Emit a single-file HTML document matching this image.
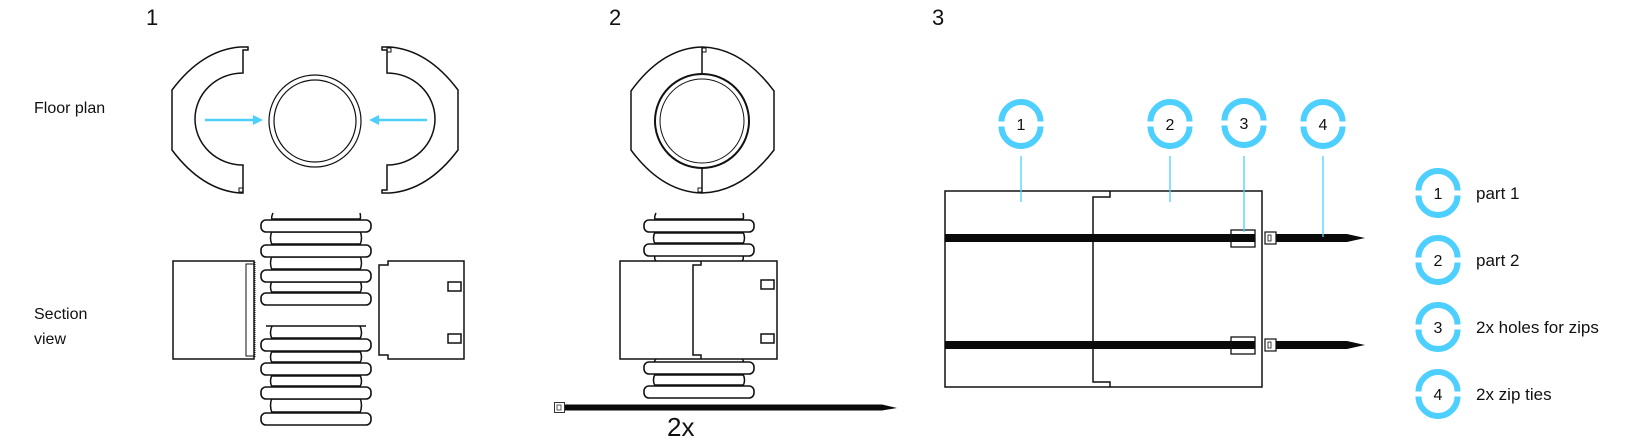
<!DOCTYPE html>
<html><head><meta charset="utf-8"><style>
html,body{margin:0;padding:0;background:#fff;}
svg{display:block;}
text{font-family:"Liberation Sans",sans-serif;fill:#111;}
</style></head><body>
<svg width="1646" height="442" viewBox="0 0 1646 442" xmlns="http://www.w3.org/2000/svg">
<defs>
<g id="badge">
  <path d="M-19.5,-2.5 A19.5,19.5 0 0 1 19.5,-2.5 M-19.5,2.5 A19.5,19.5 0 0 0 19.5,2.5" fill="none" stroke="#4dcfff" stroke-width="6"/>
</g>
<g id="ring">
  <rect x="0" y="0" width="110" height="12" rx="5" fill="#fff" stroke="#111" stroke-width="1.6"/>
</g>
</defs>

<text x="146" y="25" font-size="22">1</text>
<text x="609" y="25" font-size="22">2</text>
<text x="932" y="25" font-size="22">3</text>
<text x="34" y="113" font-size="16">Floor plan</text>
<text x="34" y="319" font-size="16">Section</text>
<text x="34" y="344" font-size="16">view</text>

<g fill="none" stroke="#111" stroke-width="1.5">
  <path d="M243,73 L243,50 L248,50 L248,47 L240,47 Q202,50 172,90 L172,150 Q202,190 240,193 L243,193 L243,165 A48,46 0 0 1 243,73 Z"/>
  <rect x="239" y="188" width="4" height="4" stroke-width="1"/>
  <path d="M387,73 L387,50 L382,50 L382,47 L390,47 Q428,50 458,90 L458,150 Q428,190 390,193 L382,193 L382,190 L387,190 L387,165 A48,46 0 0 0 387,73 Z"/>
  <rect x="387" y="48" width="4" height="4" stroke-width="1"/>
  <circle cx="315" cy="121" r="46" stroke-width="1.2"/>
  <circle cx="315" cy="121" r="41" stroke-width="1.2"/>
</g>
<g stroke="#4dcfff" stroke-width="2.5" fill="#4dcfff">
  <line x1="205" y1="120" x2="254" y2="120"/>
  <polygon points="263,120 253,115 253,125" stroke="none"/>
  <line x1="427" y1="120" x2="378" y2="120"/>
  <polygon points="369,120 379,115 379,125" stroke="none"/>
</g>

<g fill="none" stroke="#111" stroke-width="1.5">
  <path d="M273,213 Q271,217 272,220 M360,213 Q361,217 360,220"/>
  <path d="M272,231 Q269,238 272,245 M360,231 Q363,238 360,245"/>
  <path d="M272,256 Q269,263 272,270 M360,256 Q363,263 360,270"/>
  <path d="M272,281 Q269,287 272,293 M360,281 Q363,287 360,293"/>
  <line x1="272" y1="232" x2="360" y2="232"/><line x1="272" y1="244" x2="360" y2="244"/>
  <line x1="272" y1="257" x2="360" y2="257"/><line x1="272" y1="269" x2="360" y2="269"/>
  <line x1="272" y1="282" x2="360" y2="282"/><line x1="272" y1="292" x2="360" y2="292"/>
  <line x1="272" y1="219" x2="360" y2="219"/>
  <line x1="266" y1="326" x2="366" y2="326"/>
  <path d="M272,326 Q269,333 272,339 M360,326 Q363,333 360,339"/>
  <path d="M272,351 Q269,357 272,363 M360,351 Q363,357 360,363"/>
  <path d="M272,375 Q269,381 272,387 M360,375 Q363,381 360,387"/>
  <path d="M272,398 Q269,405 272,413 M360,398 Q363,405 360,413"/>
  <line x1="272" y1="352" x2="360" y2="352"/><line x1="272" y1="362" x2="360" y2="362"/>
  <line x1="272" y1="376" x2="360" y2="376"/><line x1="272" y1="386" x2="360" y2="386"/>
  <line x1="272" y1="399" x2="360" y2="399"/><line x1="272" y1="412" x2="360" y2="412"/>
  <line x1="272" y1="338" x2="360" y2="338"/>
</g>
<use href="#ring" x="261" y="220"/><use href="#ring" x="261" y="245"/>
<use href="#ring" x="261" y="270"/><use href="#ring" x="261" y="293"/>
<use href="#ring" x="261" y="339"/><use href="#ring" x="261" y="363"/>
<use href="#ring" x="261" y="387"/><use href="#ring" x="261" y="413"/>
<g fill="none" stroke="#111" stroke-width="1.5">
  <rect x="173" y="261" width="81" height="98"/>
  <rect x="246" y="264" width="8" height="92" stroke-width="1"/>
  <line x1="255" y1="262" x2="255" y2="358" stroke-dasharray="1,1" stroke-width="1"/>
  <path d="M388,261 L464,261 L464,359 L388,359 L388,355 L379,355 L379,265 L388,265 Z"/>
  <rect x="448" y="282" width="13" height="9"/>
  <rect x="448" y="334" width="13" height="9"/>
</g>

<g fill="none" stroke="#111" stroke-width="1.5">
  <path d="M702,47 Q662,48 631,91 L631,150 Q662,192 702,193 Q742,192 774,150 L774,91 Q742,48 702,47 Z"/>
  <line x1="702" y1="47" x2="702" y2="74"/>
  <line x1="702" y1="167" x2="702" y2="193"/>
  <rect x="702" y="48" width="4" height="4" stroke-width="1"/>
  <rect x="698" y="188" width="4" height="4" stroke-width="1"/>
  <circle cx="702" cy="121" r="47" stroke-width="2"/>
  <circle cx="702" cy="121" r="42" stroke-width="1"/>
  <path d="M656,213 Q654,217 655,220 M743,213 Q744,217 743,220"/>
  <path d="M655,232 Q652,238 655,244 M743,232 Q746,238 743,244"/>
  <path d="M655,256 Q654,259 656,261 M743,256 Q744,259 742,261"/>
  <path d="M656,359 Q654,361 655,362 M742,359 Q744,361 743,362"/>
  <path d="M655,374 Q652,380 655,386 M743,374 Q746,380 743,386"/>
  <line x1="655" y1="233" x2="743" y2="233"/><line x1="655" y1="243" x2="743" y2="243"/>
  <line x1="655" y1="219" x2="743" y2="219"/>
  <line x1="655" y1="375" x2="743" y2="375"/><line x1="655" y1="385" x2="743" y2="385"/>
</g>
<g transform="translate(383,0)">
<use href="#ring" x="261" y="220"/><use href="#ring" x="261" y="244"/>
<use href="#ring" x="261" y="362"/><use href="#ring" x="261" y="386"/>
</g>
<g fill="none" stroke="#111" stroke-width="1.5">
  <rect x="620" y="261" width="157" height="98" fill="#fff"/>
  <path d="M701,261 L701,265 L693,265 L693,355 L701,355 L701,359"/>
  <rect x="761" y="280" width="13" height="9"/>
  <rect x="761" y="334" width="13" height="9"/>
</g>
<rect x="565" y="404.5" width="317" height="6" fill="#0a0a0a"/>
<polygon points="882,404.5 897,408 882,410.5" fill="#0a0a0a"/>
<rect x="554.5" y="402.5" width="10" height="10" fill="#fff" stroke="#333" stroke-width="1"/>
<rect x="557" y="405" width="4" height="5" fill="#fff" stroke="#333" stroke-width="0.8"/>
<text x="667" y="436" font-size="26">2x</text>

<g fill="none" stroke="#111" stroke-width="1.5">
  <rect x="945" y="191" width="317" height="196"/>
  <path d="M1110,191 L1110,197 L1093,197 L1093,382 L1110,382 L1110,387"/>
</g>
<rect x="945" y="234" width="310" height="8" fill="#0a0a0a"/>
<rect x="945" y="341" width="310" height="8" fill="#0a0a0a"/>
<g fill="none" stroke="#111" stroke-width="1.3">
  <rect x="1231" y="230" width="24" height="17"/>
  <rect x="1231" y="337" width="24" height="17"/>
</g>
<g>
  <rect x="1276" y="234" width="71" height="8" fill="#0a0a0a"/>
  <polygon points="1347,234 1365,238 1347,242" fill="#0a0a0a"/>
  <rect x="1265" y="232" width="11" height="12" fill="#fff" stroke="#111" stroke-width="1.2"/>
  <rect x="1268" y="235" width="3" height="6" fill="none" stroke="#111" stroke-width="0.8"/>
  <rect x="1276" y="341" width="71" height="8" fill="#0a0a0a"/>
  <polygon points="1347,341 1365,345 1347,349" fill="#0a0a0a"/>
  <rect x="1265" y="339" width="11" height="12" fill="#fff" stroke="#111" stroke-width="1.2"/>
  <rect x="1268" y="342" width="3" height="6" fill="none" stroke="#111" stroke-width="0.8"/>
</g>
<g stroke="#4dcfff" stroke-width="1.3">
  <line x1="1021" y1="156" x2="1021" y2="202"/>
  <line x1="1170" y1="156" x2="1170" y2="202"/>
  <line x1="1244" y1="156" x2="1244" y2="232"/>
  <line x1="1323" y1="156" x2="1323" y2="237"/>
</g>
<use href="#badge" x="1021" y="124"/>
<use href="#badge" x="1170" y="124"/>
<use href="#badge" x="1244" y="123"/>
<use href="#badge" x="1323" y="124"/>
<g font-size="16" text-anchor="middle">
  <text x="1021" y="130">1</text>
  <text x="1170" y="130">2</text>
  <text x="1244" y="129">3</text>
  <text x="1323" y="130">4</text>
</g>

<use href="#badge" x="1438" y="193"/>
<use href="#badge" x="1438" y="260"/>
<use href="#badge" x="1438" y="327"/>
<use href="#badge" x="1438" y="394"/>
<g font-size="16" text-anchor="middle">
  <text x="1438" y="199">1</text>
  <text x="1438" y="266">2</text>
  <text x="1438" y="333">3</text>
  <text x="1438" y="400">4</text>
</g>
<g font-size="17">
  <text x="1476" y="199">part 1</text>
  <text x="1476" y="266">part 2</text>
  <text x="1476" y="333">2x holes for zips</text>
  <text x="1476" y="400">2x zip ties</text>
</g>
</svg>
</body></html>
